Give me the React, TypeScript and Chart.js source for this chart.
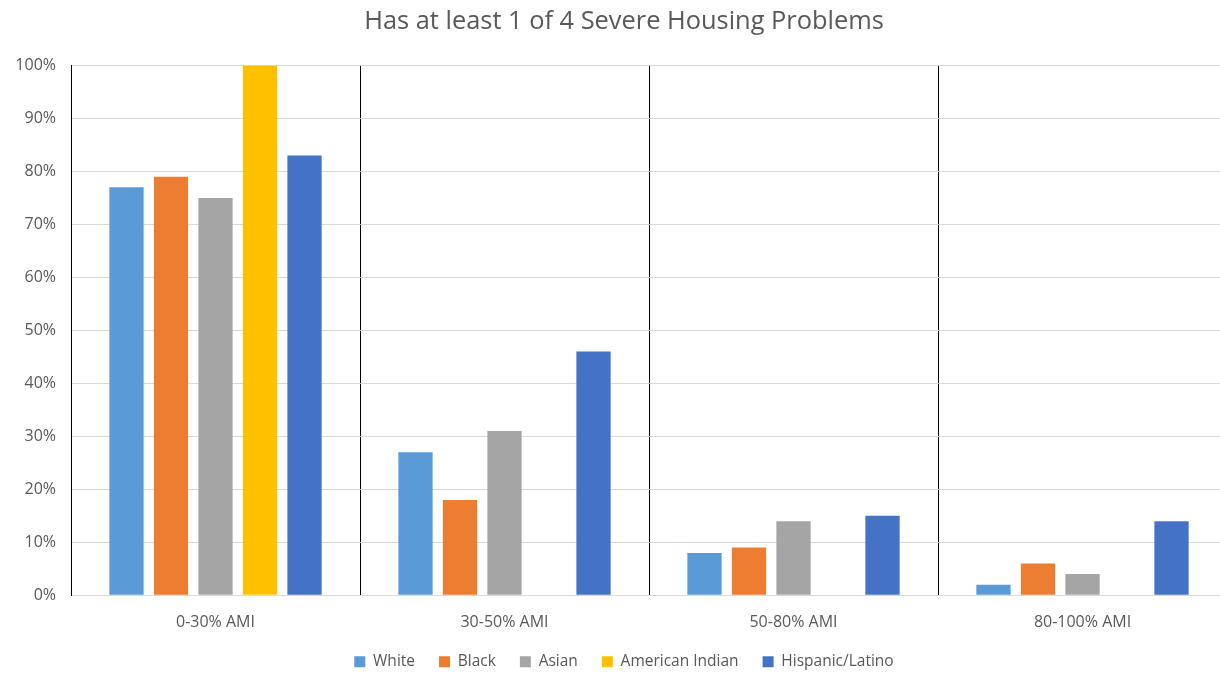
import React, { useEffect, useRef } from "react";
import { Chart, registerables } from "chart.js";

Chart.register(...registerables);

const categories = ["0-30% AMI", "30-50% AMI", "50-80% AMI", "80-100% AMI"];
const white = [77, 27, 8, 2];
const black = [79, 18, 9, 6];
const asian = [75, 31, 14, 4];
const americanIndian = [100, 0, 0, 0];
const hispanicLatino = [83, 46, 15, 14];
const yTicks = [0, 10, 20, 30, 40, 50, 60, 70, 80, 90, 100];

const FONT = "'Open Sans', Lato, sans-serif";
const TEXT = "#595959";

// tick labels are allowed to spill outside their axis box
const noLabelClip = (scale: any) => {
  scale._computeLabelArea = () => undefined;
};

export default function App() {
  const canvasRef = useRef<HTMLCanvasElement | null>(null);

  useEffect(() => {
    const canvas = canvasRef.current;
    if (!canvas) return;
    const series = [
      { label: "White", data: white, color: "#5b9bd5" },
      { label: "Black", data: black, color: "#ed7d31" },
      { label: "Asian", data: asian, color: "#a5a5a5" },
      { label: "American Indian", data: americanIndian, color: "#ffc000" },
      { label: "Hispanic/Latino", data: hispanicLatino, color: "#4472c4" },
    ];
    const chart = new Chart(canvas, {
      type: "bar",
      data: {
        labels: categories,
        datasets: series.map((s) => ({
          label: s.label,
          data: s.data,
          backgroundColor: s.color,
          borderWidth: 0,
          categoryPercentage: 0.77,
          barPercentage: 0.77,
        })),
      },
      options: {
        responsive: false,
        animation: false,
        layout: { padding: { left: 21, right: 21, top: 0, bottom: -3 } },
        plugins: {
          title: {
            display: true,
            text: "Has at least 1 of 4 Severe Housing Problems",
            color: TEXT,
            font: { family: FONT, size: 25.4, weight: "normal" },
            padding: { top: 7, bottom: 28 },
          },
          legend: {
            position: "bottom",
            maxHeight: 46,
            labels: {
              color: TEXT,
              font: { family: FONT, size: 15.5 },
              boxWidth: 11,
              boxHeight: 11,
              padding: 24,
            },
          },
          tooltip: { enabled: false },
        },
        scales: {
          x: {
            afterFit: (scale: any) => {
              scale.height = 34.7;
              noLabelClip(scale);
            },
            grid: {
              color: "#000000",
              lineWidth: 1,
              drawTicks: false,
              offset: true,
            },
            border: { color: "#d9d9d9" },
            ticks: {
              color: TEXT,
              font: { family: FONT, size: 16 },
              padding: 18,
            },
          },
          y: {
            min: 0,
            max: 100,
            afterBuildTicks: (scale: any) => {
              scale.ticks = yTicks.map((v) => ({ value: v }));
            },
            afterFit: (scale: any) => {
              scale.width = 50;
              noLabelClip(scale);
            },
            grid: { color: "#d9d9d9", drawTicks: false },
            border: { color: "#000000" },
            ticks: {
              color: TEXT,
              font: { family: FONT, size: 16 },
              padding: 15,
              callback: (v: any) => v + "%",
            },
          },
        },
      },
    });
    return () => chart.destroy();
  }, []);

  return (
    <div
      style={{
        position: "fixed",
        left: 0,
        top: 0,
        width: 1220,
        height: 673,
        overflow: "hidden",
        background: "#ffffff",
      }}
    >
      <canvas ref={canvasRef} width={1248} height={673} />
    </div>
  );
}
